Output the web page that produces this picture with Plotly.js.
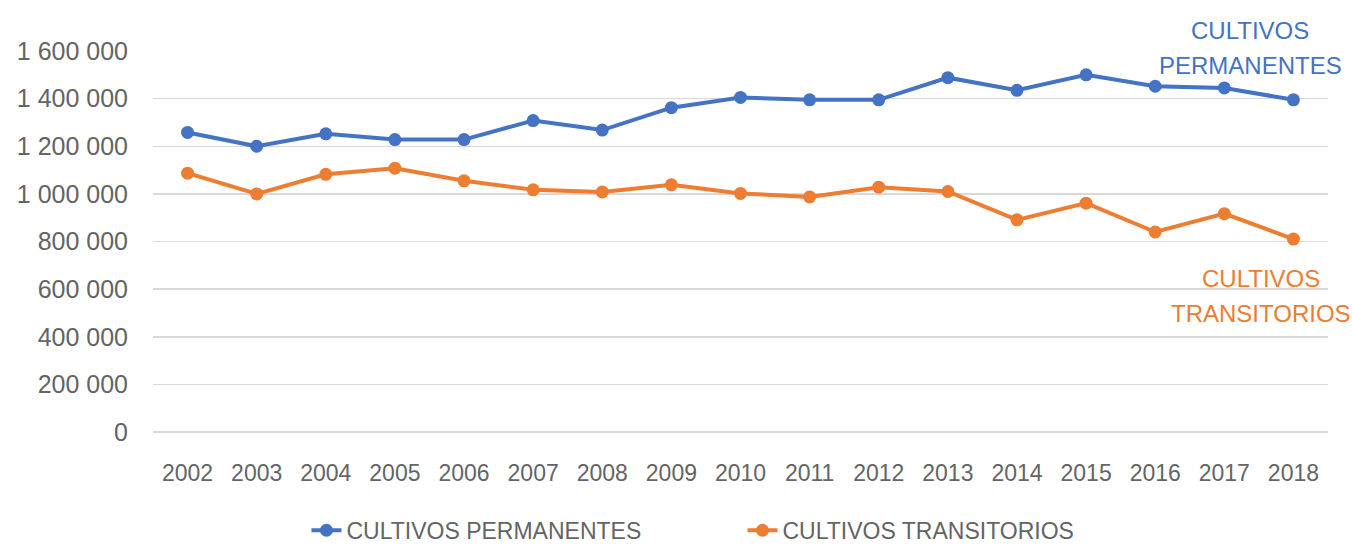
<!DOCTYPE html>
<html>
<head>
<meta charset="utf-8">
<script src="https://cdn.plot.ly/plotly-3.0.1.min.js"></script>
<style>html,body{margin:0;padding:0;background:#fff;}#chart{width:1352px;height:545px;}</style>
</head>
<body>
<div id="chart"></div>
<script>
const years = ['2002','2003','2004','2005','2006','2007','2008','2009','2010','2011','2012','2013','2014','2015','2016','2017','2018'];
const permanentes = [1258000,1200000,1252000,1228000,1228000,1308000,1268000,1362000,1405000,1395000,1395000,1488000,1435000,1500000,1452000,1445000,1395000];
const transitorios = [1087000,1000000,1082000,1108000,1055000,1017000,1008000,1038000,1002000,987000,1028000,1010000,891000,961000,840000,917000,810000];
const yTickVals = [0,200000,400000,600000,800000,1000000,1200000,1400000,1600000];
const yTickText = ['0','200 000','400 000','600 000','800 000','1 000 000','1 200 000','1 400 000','1 600 000'];

const FONT = '"Liberation Sans", Arial, sans-serif';
const BLUE = '#4472C4', ORANGE = '#ED7D31', GREY = '#646464';

const traces = [
  {x: years, y: permanentes, type: 'scatter', mode: 'lines+markers', name: 'CULTIVOS PERMANENTES',
   line: {color: BLUE, width: 4}, marker: {color: BLUE, size: 13}, legend: 'legend'},
  {x: years, y: transitorios, type: 'scatter', mode: 'lines+markers', name: 'CULTIVOS TRANSITORIOS',
   line: {color: ORANGE, width: 4}, marker: {color: ORANGE, size: 13}, legend: 'legend2'}
];

const legendBase = {orientation: 'h', yanchor: 'middle', xanchor: 'left', y: -0.258,
                    font: {family: FONT, size: 23, color: GREY}, itemwidth: 30, bgcolor: 'rgba(0,0,0,0)'};

const layout = {
  width: 1352, height: 545,
  margin: {l: 153, r: 24, t: 51, b: 113, autoexpand: false},
  paper_bgcolor: '#fff', plot_bgcolor: '#fff',
  font: {family: FONT, color: GREY, size: 18},
  showlegend: true,
  legend: Object.assign({}, legendBase, {x: 0.1306}),
  legend2: Object.assign({}, legendBase, {x: 0.5017}),
  xaxis: {type: 'category', range: [-0.5, 16.5], showgrid: false, zeroline: false, showline: false,
          ticks: '', ticklabelstandoff: 25, automargin: false,
          tickfont: {family: FONT, size: 23, color: GREY}, fixedrange: true},
  yaxis: {range: [0, 1600000], tickvals: yTickVals, ticktext: yTickText, showgrid: true,
          gridcolor: '#d9d9d9', gridwidth: 1.5, zeroline: true, zerolinecolor: '#d9d9d9', zerolinewidth: 1.5,
          showline: false, ticks: '', ticklabelstandoff: 24, automargin: false,
          tickfont: {family: FONT, size: 25, color: GREY}, fixedrange: true},
  annotations: [
    {xref: 'paper', yref: 'paper', x: 0.934, y: 1.055, text: 'CULTIVOS', showarrow: false,
     font: {family: FONT, size: 24, color: BLUE}, xanchor: 'center', yanchor: 'middle'},
    {xref: 'paper', yref: 'paper', x: 0.934, y: 0.963, text: 'PERMANENTES', showarrow: false,
     font: {family: FONT, size: 24, color: BLUE}, xanchor: 'center', yanchor: 'middle'},
    {xref: 'paper', yref: 'paper', x: 0.943, y: 0.403, text: 'CULTIVOS', showarrow: false,
     font: {family: FONT, size: 24, color: ORANGE}, xanchor: 'center', yanchor: 'middle'},
    {xref: 'paper', yref: 'paper', x: 0.943, y: 0.311, text: 'TRANSITORIOS', showarrow: false,
     font: {family: FONT, size: 24, color: ORANGE}, xanchor: 'center', yanchor: 'middle'}
  ]
};

Plotly.newPlot('chart', traces, layout, {displayModeBar: false, staticPlot: true});
</script>
</body>
</html>
